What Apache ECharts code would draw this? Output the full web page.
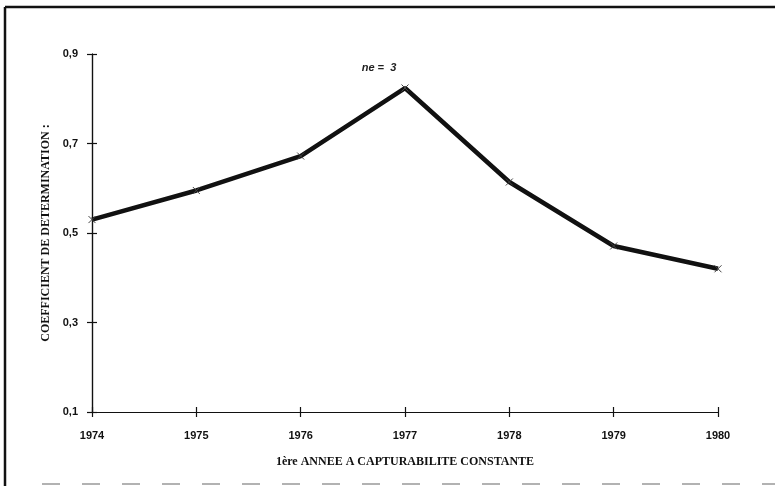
<!DOCTYPE html>
<html>
<head>
<meta charset="utf-8">
<script src="https://cdn.jsdelivr.net/npm/echarts@6/dist/echarts.min.js"></script>
<style>
  html, body { margin: 0; padding: 0; background: #fff; }
  #chart { width: 775px; height: 486px; }
</style>
</head>
<body>
<div id="chart"></div>
<script>
// First year of constant catchability vs coefficient of determination
const years = ['1974', '1975', '1976', '1977', '1978', '1979', '1980'];
const r2Values = [0.53, 0.595, 0.672, 0.824, 0.614, 0.471, 0.42];
const yTicks = [0.1, 0.3, 0.5, 0.7, 0.9];
const peakNote = 'ne =  3';
const peakIndex = 3;

const chart = echarts.init(document.getElementById('chart'), null, { renderer: 'canvas' });

const crossSymbol = 'path://M0,0L10,10M10,0L0,10';
const tickStyle = { color: '#111', width: 1.2 };
const lineOfAxis = { show: true, lineStyle: { color: '#111', width: 1.2 } };

const seriesData = r2Values.map((v, i) => {
  if (i !== peakIndex) return v;
  return {
    value: v,
    label: {
      show: true,
      position: 'top',
      formatter: peakNote,
      offset: [-26, -6],
      fontFamily: 'Liberation Sans',
      fontStyle: 'italic',
      fontWeight: 'bold',
      fontSize: 11,
      color: '#222'
    }
  };
});

const axisText = { fontFamily: 'Liberation Sans', fontWeight: 'bold', fontSize: 11, color: '#111' };
const nameText = { fontFamily: 'Liberation Serif', fontWeight: 'bold', fontSize: 12, color: '#111' };

chart.setOption({
  animation: false,
  backgroundColor: '#fff',
  grid: { left: 92, right: 57, top: 54, bottom: 74 },
  xAxis: [
    {
      type: 'category',
      data: years,
      boundaryGap: false,
      position: 'bottom',
      name: '1ère ANNEE A CAPTURABILITE CONSTANTE',
      nameLocation: 'middle',
      nameGap: 44,
      nameTextStyle: nameText,
      axisLine: lineOfAxis,
      axisTick: { show: true, length: 5, lineStyle: tickStyle },
      axisLabel: Object.assign({ margin: 18 }, axisText),
      splitLine: { show: false }
    },
    {
      // inward half of the crossing ticks
      type: 'category',
      data: years,
      boundaryGap: false,
      position: 'bottom',
      offset: 0,
      axisLine: lineOfAxis,
      axisTick: { show: true, inside: true, length: 5, lineStyle: tickStyle },
      axisLabel: { show: false },
      splitLine: { show: false }
    }
  ],
  yAxis: [
    {
      type: 'value',
      min: 0.1,
      max: 0.9,
      position: 'left',
      name: 'COEFFICIENT DE DETERMINATION :',
      nameLocation: 'middle',
      nameRotate: 90,
      nameGap: 38,
      nameTextStyle: nameText,
      axisLine: lineOfAxis,
      axisTick: { show: true, length: 5, customValues: yTicks, lineStyle: tickStyle },
      axisLabel: Object.assign({
        margin: 14,
        customValues: yTicks,
        formatter: v => v.toFixed(1).replace('.', ',')
      }, axisText),
      splitLine: { show: false }
    },
    {
      // inward half of the crossing ticks
      type: 'value',
      min: 0.1,
      max: 0.9,
      position: 'left',
      offset: 0,
      axisLine: lineOfAxis,
      axisTick: { show: true, inside: true, length: 5, customValues: yTicks, lineStyle: tickStyle },
      axisLabel: { show: false, customValues: yTicks },
      splitLine: { show: false }
    }
  ],
  series: [
    {
      type: 'line',
      xAxisIndex: 0,
      yAxisIndex: 0,
      data: seriesData,
      symbol: crossSymbol,
      symbolSize: 7,
      showSymbol: true,
      lineStyle: { color: '#111', width: 4.5 },
      itemStyle: { color: '#fff', borderColor: '#444', borderWidth: 1 },
      z: 3
    }
  ],
  graphic: [
    { type: 'line', shape: { x1: 5, y1: 7, x2: 5, y2: 486 }, style: { stroke: '#111', lineWidth: 2.5 } },
    { type: 'line', shape: { x1: 5, y1: 7, x2: 775, y2: 7 }, style: { stroke: '#111', lineWidth: 2.5 } },
    { type: 'line', shape: { x1: 42, y1: 484, x2: 775, y2: 484 }, style: { stroke: '#999', lineWidth: 1.5, lineDash: [18, 22] } }
  ]
});
</script>
</body>
</html>
